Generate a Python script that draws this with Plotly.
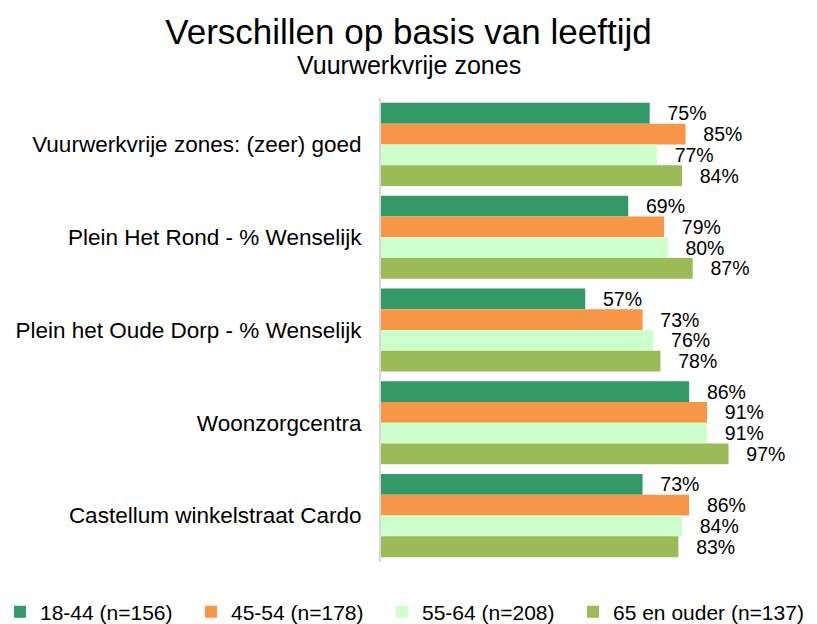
import plotly.graph_objects as go

categories = [
    "Vuurwerkvrije zones: (zeer) goed",
    "Plein Het Rond - % Wenselijk",
    "Plein het Oude Dorp - % Wenselijk",
    "Woonzorgcentra",
    "Castellum winkelstraat Cardo",
]
series_names = ["18-44 (n=156)", "45-54 (n=178)", "55-64 (n=208)", "65 en ouder (n=137)"]
v_18_44 = [75, 69, 57, 86, 73]
v_45_54 = [85, 79, 73, 91, 86]
v_55_64 = [77, 80, 76, 91, 84]
v_65plus = [84, 87, 78, 97, 83]
series_values = [v_18_44, v_45_54, v_55_64, v_65plus]
colors = ["#339966", "#F79646", "#CCFFCC", "#9BBB59"]
legend_widths = [146, 146, 146, 192]

title_text = "Verschillen op basis van leeftijd"
subtitle_text = "Vuurwerkvrije zones"

FONT = "Arial, Liberation Sans, sans-serif"

W, H = 817, 624
L, R, T, B = 381, 0, 98, 62
PW, PH = W - L - R, H - T - B
PX_PER_PCT = 3.583

fig = go.Figure()
for name, vals, col, lw in zip(series_names, series_values, colors, legend_widths):
    fig.add_trace(go.Bar(
        y=categories, x=vals, name=name, orientation="h",
        marker=dict(color=col, line=dict(width=0)),
        text=[f"\u00a0\u00a0\u2009{v}%" for v in vals],
        textposition="outside", constraintext="none", cliponaxis=False,
        textfont=dict(family=FONT, size=19.5, color="#000000"),
        legendwidth=lw,
        hoverinfo="x+y+name",
    ))

fig.update_layout(
    width=W, height=H,
    margin=dict(l=L, r=R, t=T, b=B, autoexpand=False),
    paper_bgcolor="white", plot_bgcolor="white",
    barmode="group", bargap=0.105, bargroupgap=0,
    font=dict(family=FONT, color="#000000"),
    title=dict(
        text=title_text,
        font=dict(size=35, family=FONT, color="#000000"),
        x=0.5, xref="container", xanchor="center",
        y=1 - 32 / H, yref="container", yanchor="middle",
    ),
    annotations=[dict(
        text=subtitle_text, xref="paper", yref="paper",
        x=(W / 2 - L) / PW, y=1 + (T - 65) / PH,
        xanchor="center", yanchor="middle", showarrow=False,
        font=dict(size=25, family=FONT, color="#000000"),
    )],
    xaxis=dict(range=[0, PW / PX_PER_PCT], showgrid=False, zeroline=False, showticklabels=False,
               showline=False, fixedrange=True, automargin=False),
    yaxis=dict(autorange="reversed", showgrid=False, zeroline=False,
               showline=True, linecolor="#D9D9D9", linewidth=2,
               ticks="", ticklabelstandoff=13, automargin=False,
               tickfont=dict(size=22.5, family=FONT, color="#000000")),
    legend=dict(orientation="h", xref="paper", yref="paper",
                x=-L / PW, y=-(612 - (H - B)) / PH, xanchor="left", yanchor="middle",
                font=dict(size=21, family=FONT, color="#000000"),
                entrywidthmode="pixels", traceorder="normal"),
    showlegend=True,
)

fig.write_html("out.html", config={"displayModeBar": False},
               post_script="document.body.style.margin='0px';")
